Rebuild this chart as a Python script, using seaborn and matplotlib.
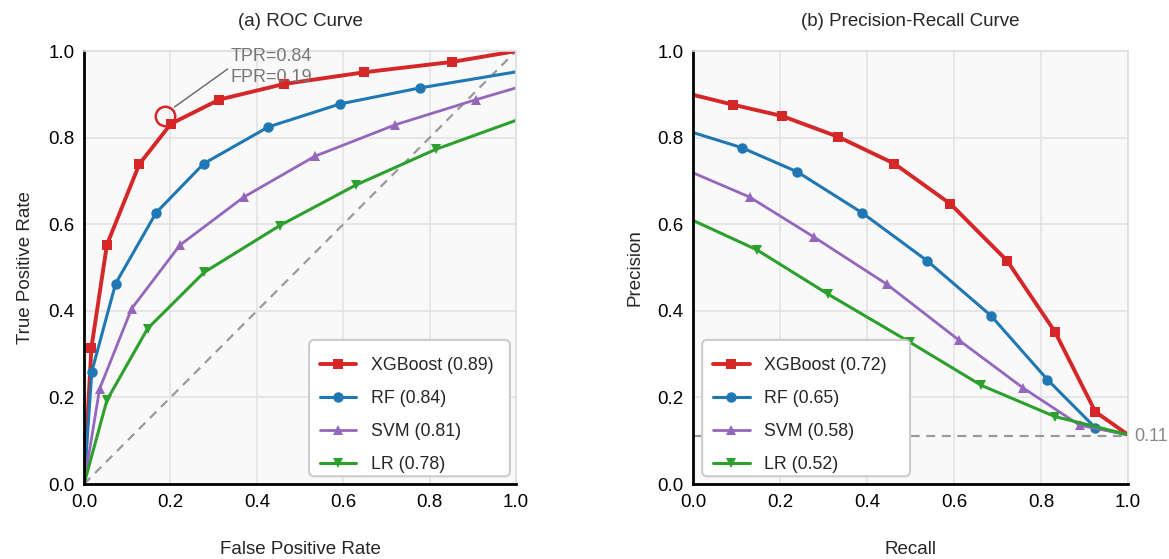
import numpy as np
import pandas as pd
import matplotlib
matplotlib.use("Agg")
import matplotlib.pyplot as plt
from matplotlib.patches import FancyBboxPatch
import seaborn as sns

# ROC curve points (FPR, TPR)
roc_xgb_fpr = [0.0, 0.017, 0.053, 0.128, 0.201, 0.313, 0.463, 0.648, 0.852, 1.0]
roc_xgb_tpr = [0.0, 0.315, 0.553, 0.739, 0.832, 0.888, 0.924, 0.951, 0.975, 1.0]
roc_rf_fpr = [0.0, 0.018, 0.073, 0.167, 0.277, 0.427, 0.593, 0.778, 1.0]
roc_rf_tpr = [0.0, 0.260, 0.463, 0.627, 0.740, 0.825, 0.878, 0.915, 0.952]
roc_svm_fpr = [0.0, 0.036, 0.110, 0.222, 0.370, 0.534, 0.721, 0.908, 1.0]
roc_svm_tpr = [0.0, 0.220, 0.405, 0.552, 0.663, 0.757, 0.830, 0.888, 0.915]
roc_lr_fpr = [0.0, 0.053, 0.147, 0.278, 0.453, 0.630, 0.814, 1.0]
roc_lr_tpr = [0.0, 0.194, 0.359, 0.489, 0.597, 0.691, 0.773, 0.840]

# PR curve points (recall, precision)
pr_xgb_rec = [0.0, 0.093, 0.205, 0.334, 0.463, 0.592, 0.722, 0.832, 0.925, 1.0]
pr_xgb_prec = [0.899, 0.876, 0.850, 0.802, 0.740, 0.647, 0.516, 0.352, 0.167, 0.114]
pr_rf_rec = [0.0, 0.112, 0.240, 0.388, 0.538, 0.685, 0.815, 0.925, 1.0]
pr_rf_prec = [0.812, 0.777, 0.721, 0.627, 0.516, 0.389, 0.241, 0.130, 0.114]
pr_svm_rec = [0.0, 0.130, 0.279, 0.445, 0.612, 0.759, 0.889, 1.0]
pr_svm_prec = [0.719, 0.663, 0.570, 0.462, 0.332, 0.222, 0.136, 0.114]
pr_lr_rec = [0.0, 0.147, 0.310, 0.498, 0.663, 0.832, 1.0]
pr_lr_prec = [0.609, 0.541, 0.439, 0.328, 0.228, 0.156, 0.114]

roc_auc = {"XGBoost": 0.89, "RF": 0.84, "SVM": 0.81, "LR": 0.78}
pr_auc = {"XGBoost": 0.72, "RF": 0.65, "SVM": 0.58, "LR": 0.52}
baseline = 0.11
best_fpr, best_tpr = 0.19, 0.84
circle_fpr, circle_tpr = 0.1875, 0.849   # where the highlight ring sits on the picture

models = ["XGBoost", "RF", "SVM", "LR"]
colors = {"XGBoost": "#d62728", "RF": "#1f77b4", "SVM": "#9467bd", "LR": "#2ca02c"}
markers = {"XGBoost": "s", "RF": "o", "SVM": "^", "LR": "v"}
widths = {"XGBoost": 2.8, "RF": 2.2, "SVM": 2.0, "LR": 2.2}

roc_data = {
    "XGBoost": (roc_xgb_fpr, roc_xgb_tpr),
    "RF": (roc_rf_fpr, roc_rf_tpr),
    "SVM": (roc_svm_fpr, roc_svm_tpr),
    "LR": (roc_lr_fpr, roc_lr_tpr),
}
pr_data = {
    "XGBoost": (pr_xgb_rec, pr_xgb_prec),
    "RF": (pr_rf_rec, pr_rf_prec),
    "SVM": (pr_svm_rec, pr_svm_prec),
    "LR": (pr_lr_rec, pr_lr_prec),
}

FS = 13.5
LEG_FS = 12.8

sns.set_theme(style="whitegrid")
plt.rcParams['font.family'] = ['Liberation Sans', 'DejaVu Sans']
plt.rcParams['font.size'] = FS

fig = plt.figure(figsize=(11.69, 5.59), dpi=100)
ax1 = fig.add_axes([0.0719, 0.134, 0.3695, 0.7746])
ax2 = fig.add_axes([0.5928, 0.134, 0.3721, 0.7746])


def style_axes(ax):
    ax.set_facecolor("#f9f9f9")
    ax.set_xlim(0, 1)
    ax.set_ylim(0, 1)
    ax.set_xticks(np.arange(0, 1.01, 0.2))
    ax.set_yticks(np.arange(0, 1.01, 0.2))
    ax.xaxis.set_major_formatter(matplotlib.ticker.FormatStrFormatter('%.1f'))
    ax.yaxis.set_major_formatter(matplotlib.ticker.FormatStrFormatter('%.1f'))
    ax.grid(True, color="#e3e3e3", linewidth=1.2)
    ax.tick_params(length=0, labelsize=FS, pad=7, colors="black")
    for side in ["left", "bottom"]:
        ax.spines[side].set_color("black")
        ax.spines[side].set_linewidth(2.0)
    for side in ["top", "right"]:
        ax.spines[side].set_color("#dedede")
        ax.spines[side].set_linewidth(1.2)


def draw_curves(ax, data, auc):
    for m in models:
        x, y = data[m]
        df = pd.DataFrame({"x": x, "y": y})
        sns.lineplot(data=df, x="x", y="y", ax=ax, color=colors[m], marker=markers[m],
                     markersize=7.5, markeredgewidth=0, linewidth=widths[m],
                     markevery=list(range(1, len(x) - 1)), estimator=None, sort=False,
                     label=f"{m} ({auc[m]:.2f})")


def add_legend(ax, frame_x0, frame_x1, entry_x0):
    # rounded white frame drawn separately so the padding can match the original
    frame = FancyBboxPatch((frame_x0, 0.018), frame_x1 - frame_x0, 0.315,
                           boxstyle="round,pad=0,rounding_size=0.012", transform=ax.transAxes,
                           facecolor="white", edgecolor="#cccccc", linewidth=1.5, zorder=8)
    ax.add_patch(frame)
    leg = ax.legend(loc="lower left", fontsize=LEG_FS, frameon=False, labelspacing=0.9,
                    handlelength=2.05, borderpad=0.3, borderaxespad=0,
                    bbox_to_anchor=(entry_x0, 0.0127))
    leg.set_zorder(9)
    return leg


# (a) ROC
style_axes(ax1)
sns.lineplot(x=[0, 1], y=[0, 1], ax=ax1, color="#9a9a9a", linestyle=(0, (4, 3)), linewidth=1.6)
draw_curves(ax1, roc_data, roc_auc)
ax1.plot(circle_fpr, circle_tpr, marker="o", markersize=14, markerfacecolor="none",
         markeredgecolor="#d62728", markeredgewidth=1.8, zorder=5)
ax1.annotate(f"TPR={best_tpr:.2f}\nFPR={best_fpr:.2f}", xy=(circle_fpr + 0.022, circle_tpr + 0.022),
             xytext=(0.34, 0.964), ha="left", va="center", fontsize=13, color="#777777",
             linespacing=1.3,
             arrowprops=dict(arrowstyle="-", color="#666666", lw=1.0, shrinkA=0, shrinkB=0,
                             relpos=(0, 0.5)))
ax1.set_title("(a) ROC Curve", fontsize=FS, pad=18)
ax1.set_xlabel("False Positive Rate", fontsize=FS, labelpad=22)
ax1.set_ylabel("True Positive Rate", fontsize=FS, labelpad=10)
add_legend(ax1, 0.521, 0.986, 0.534)

# (b) Precision-Recall
style_axes(ax2)
sns.lineplot(x=[0, 1], y=[baseline, baseline], ax=ax2, color="#9a9a9a", linestyle=(0, (4, 3)), linewidth=1.6)
draw_curves(ax2, pr_data, pr_auc)
ax2.text(1.015, baseline, f"{baseline:.2f}", transform=ax2.get_yaxis_transform(),
         ha="left", va="center", fontsize=13, color="#888888", clip_on=False)
ax2.set_title("(b) Precision-Recall Curve", fontsize=FS, pad=18)
ax2.set_xlabel("Recall", fontsize=FS, labelpad=22)
ax2.set_ylabel("Precision", fontsize=FS, labelpad=10)
add_legend(ax2, 0.021, 0.499, 0.034)

fig.savefig("out.png", dpi=100)
